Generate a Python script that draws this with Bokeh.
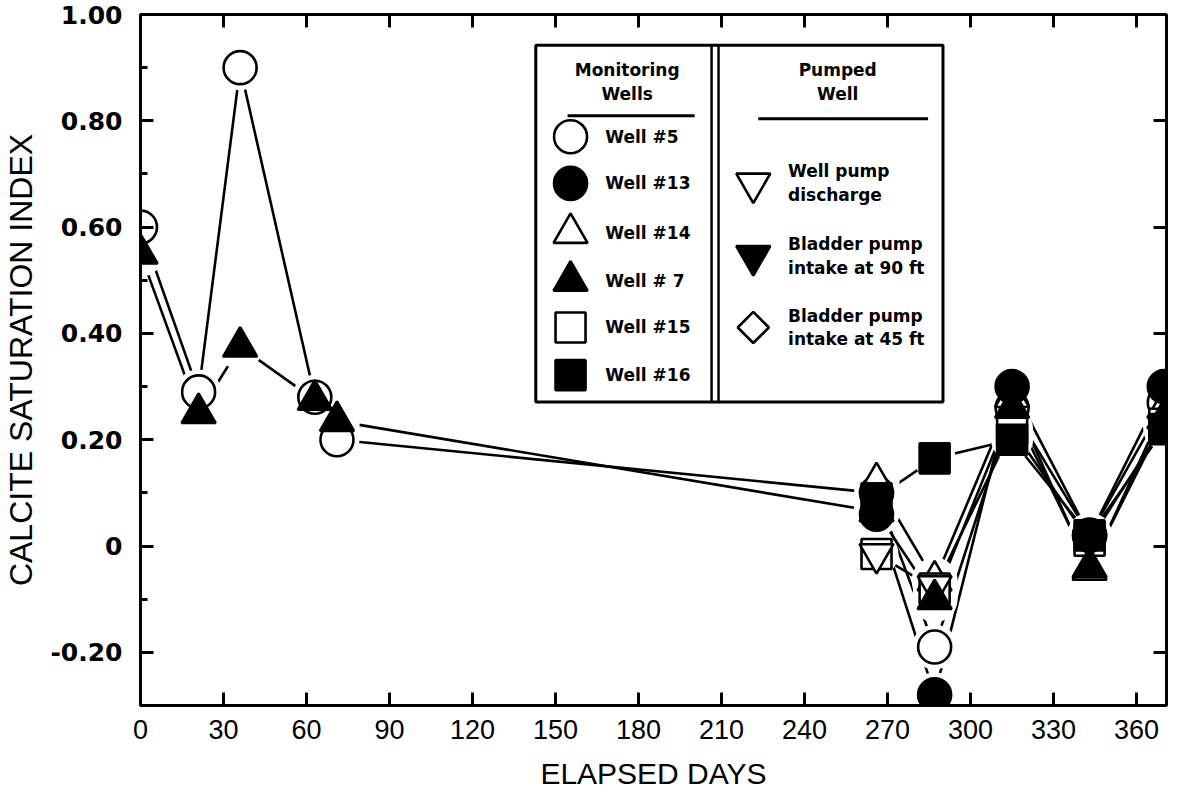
import numpy as np
from bokeh.plotting import figure
from bokeh.models import LinearAxis, FixedTicker, Range1d
from bokeh.core.properties import value
from bokeh.embed import file_html
from bokeh.resources import INLINE

# ---------------- data ----------------
days = [0, 21, 36, 63, 71, 266, 287, 315, 343, 370]
late_days = [266, 287, 315, 343, 370]

well_5 = [0.60, 0.29, 0.90, 0.28, 0.20, 0.10, -0.19, 0.26, 0.02, 0.27]
well_7 = [0.55, 0.25, 0.375, 0.275, 0.235, 0.065, -0.10, 0.26, -0.04, 0.24]
well_13 = [0.06, -0.28, 0.30, 0.02, 0.30]
well_14 = [0.12, -0.065, 0.28, -0.045, 0.26]
well_15 = [-0.015, -0.08, 0.22, 0.01, 0.23]
well_16 = [0.09, 0.165, 0.20, 0.02, 0.22]

pump_days = [266, 287]
pump_discharge = [-0.015, -0.075]

x_ticks = [0, 30, 60, 90, 120, 150, 180, 210, 240, 270, 300, 330, 360]
x_tick_labels = ["0", "30", "60", "90", "120", "150", "180", "210", "240", "270", "300", "330", "360"]
y_ticks = [-0.2, 0.0, 0.2, 0.4, 0.6, 0.8, 1.0]
y_tick_labels = ["-0.20", "0", "0.20", "0.40", "0.60", "0.80", "1.00"]
y_minor = [-0.3, -0.1, 0.1, 0.3, 0.5, 0.7, 0.9]

legend_left_labels = ["Well #5", "Well #13", "Well #14", "Well # 7", "Well #15", "Well #16"]
legend_right_labels = [["Well pump", "discharge"], ["Bladder pump", "intake at 90 ft"], ["Bladder pump", "intake at 45 ft"]]

# ---------------- styles ----------------
LW = 2.6
TICK_FONT = "DejaVu Sans"
AX_FONT = "Liberation Sans"
LEG_FONT = "DejaVu Sans"

p = figure(frame_width=1026, frame_height=691,
           min_border_left=132, min_border_top=14, min_border_right=3, min_border_bottom=82,
           x_range=Range1d(0, 370.8), y_range=Range1d(-0.30, 1.0),
           output_backend="svg", toolbar_location=None,
           x_axis_label="ELAPSED DAYS", y_axis_label="CALCITE SATURATION INDEX")
p.grid.visible = False
p.outline_line_color = "black"
p.outline_line_width = 3
p.background_fill_color = "white"
p.border_fill_color = "white"

xa = p.xaxis[0]
xa.ticker = FixedTicker(ticks=x_ticks, minor_ticks=[])
xa.major_label_overrides = {t: l for t, l in zip(x_ticks, x_tick_labels)}
ya = p.yaxis[0]
ya.ticker = FixedTicker(ticks=y_ticks, minor_ticks=y_minor)
ya.major_label_overrides = {t: l for t, l in zip(y_ticks, y_tick_labels)}

for ax in (xa, ya):
    ax.axis_line_width = 3
    ax.major_tick_in = 13
    ax.major_tick_out = 0
    ax.minor_tick_in = 7
    ax.minor_tick_out = 0
    ax.major_tick_line_width = 3
    ax.minor_tick_line_width = 3
    ax.axis_label_text_font_style = "normal"
    ax.axis_label_text_color = "black"
    ax.major_label_text_color = "black"

xa.major_label_text_font = AX_FONT
xa.major_label_text_font_size = "27px"
xa.major_label_standoff = 14
xa.axis_label_text_font = AX_FONT
xa.axis_label_text_font_size = "30px"
xa.axis_label_standoff = 15

ya.major_label_text_font = TICK_FONT
ya.major_label_text_font_style = "bold"
ya.major_label_text_font_size = "25px"
ya.major_label_standoff = 18
ya.axis_label_text_font = AX_FONT
ya.axis_label_text_font_size = "32px"
ya.axis_label_standoff = 8

# top and right axes, ticks only
top = LinearAxis(ticker=FixedTicker(ticks=x_ticks, minor_ticks=[]), major_label_text_color=None,
                 major_tick_in=13, major_tick_out=0, minor_tick_in=0, minor_tick_out=0,
                 axis_line_width=3, major_tick_line_width=3)
right = LinearAxis(ticker=FixedTicker(ticks=y_ticks, minor_ticks=[]), major_label_text_color=None,
                   major_tick_in=13, major_tick_out=0, minor_tick_in=0, minor_tick_out=0,
                   axis_line_width=3, major_tick_line_width=3)
p.add_layout(top, "above")
p.add_layout(right, "right")

# ---------------- series ----------------
series = [
    (days, well_5, "circle", 33, "white"),
    (late_days, well_14, "triangle", 34, "white"),
    (late_days, well_15, "square", 30, "white"),
    (days, well_7, "triangle", 34, "black"),
    (late_days, well_13, "circle", 33, "black"),
    (late_days, well_16, "square", 30, "black"),
]

for xs, ys, m, s, fc in series:
    p.line(xs, ys, line_color="black", line_width=LW)

# halos create the small gaps where lines meet markers
for xs, ys, m, s, fc in series:
    p.scatter(xs, ys, marker="circle", size=s + 12, fill_color="white", line_color=None)
p.scatter(pump_days, pump_discharge, marker="circle", size=44, fill_color="white", line_color=None)

# open markers first, filled ones on top
for xs, ys, m, s, fc in series[:3]:
    p.scatter(xs, ys, marker=m, size=s, fill_color=fc, line_color="black", line_width=LW)
p.scatter(pump_days, pump_discharge, marker="inverted_triangle", size=34, fill_color="white",
          line_color="black", line_width=LW)
for xs, ys, m, s, fc in series[3:]:
    p.scatter(xs, ys, marker=m, size=s, fill_color=fc, line_color="black", line_width=LW)

# ---------------- legend (positions given in reference pixels) ----------------
X0, XS = 140.0, 2.786      # pixel of day 0, pixels per day
Y0, YS = 552.0, 535.0      # pixel of index 0, pixels per unit


def dx(px):
    return (px - X0) / XS


def dy(py):
    return (Y0 - py) / YS


p.quad(left=[dx(538)], right=[dx(948)], top=[dy(48)], bottom=[dy(407)],
       fill_color="white", line_color="black", line_width=3)
p.segment(x0=[dx(715), dx(722)], y0=[dy(48)] * 2, x1=[dx(715), dx(722)], y1=[dy(407)] * 2,
          line_color="black", line_width=2.5)
p.segment(x0=[dx(570), dx(762)], y0=[dy(119), dy(122)], x1=[dx(698), dx(933)], y1=[dy(119), dy(122)],
          line_color="black", line_width=3)

p.text(x=[dx(630), dx(630), dx(842), dx(842)], y=[dy(73), dy(97), dy(73), dy(97)],
       text=["Monitoring", "Wells", "Pumped", "Well"], text_align="center", text_baseline="middle",
       text_font=value(LEG_FONT), text_font_style="bold", text_font_size="17px", text_color="black")

left_rows = [140, 187, 237, 285, 332, 380]
left_markers = ["circle", "circle", "triangle", "triangle", "square", "square"]
left_sizes = [33, 33, 34, 34, 30, 30]
left_fills = ["white", "black", "white", "black", "white", "black"]
p.scatter(x=[dx(573)] * 6, y=[dy(r) for r in left_rows], marker=left_markers, size=left_sizes,
          fill_color=left_fills, line_color="black", line_width=LW)
p.text(x=[dx(608)] * 6, y=[dy(r) for r in left_rows], text=legend_left_labels,
       text_align="left", text_baseline="middle", text_font=value(LEG_FONT),
       text_font_style="bold", text_font_size="17px", text_color="black")

right_rows = [187, 260, 332]
p.scatter(x=[dx(757)] * 2, y=[dy(187), dy(260)], marker="inverted_triangle", size=34,
          fill_color=["white", "black"], line_color="black", line_width=LW)
p.scatter(x=[dx(757)], y=[dy(332)], marker="square", angle=np.pi / 4, size=22,
          fill_color="white", line_color="black", line_width=LW)
rt, ry = [], []
for r, pair in zip(right_rows, legend_right_labels):
    rt += pair
    ry += [dy(r - 12), dy(r + 12)]
p.text(x=[dx(792)] * len(rt), y=ry, text=rt, text_align="left", text_baseline="middle",
       text_font=value(LEG_FONT), text_font_style="bold", text_font_size="17px", text_color="black")

open("out.html", "w").write(file_html(p, INLINE))
